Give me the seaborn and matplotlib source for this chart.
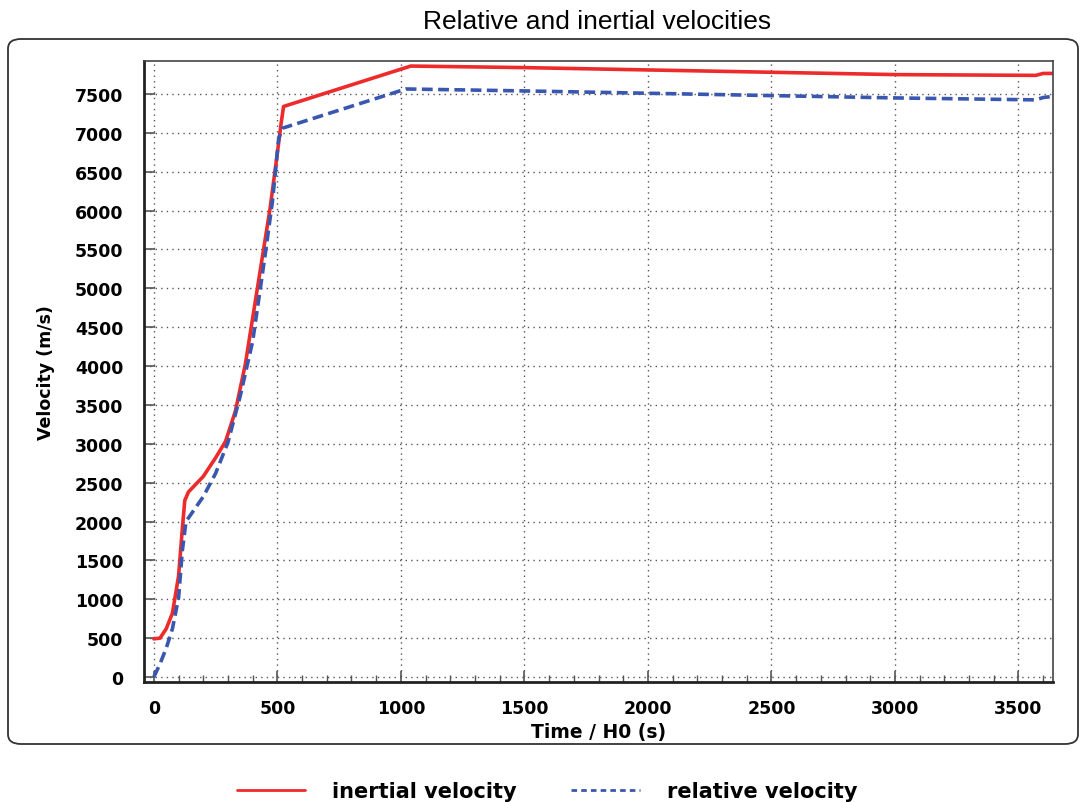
import numpy as np
import pandas as pd
import matplotlib
matplotlib.use("Agg")
import matplotlib.pyplot as plt
from matplotlib.patches import FancyBboxPatch
from matplotlib.lines import Line2D
from matplotlib.ticker import MultipleLocator
import seaborn as sns

# ---- data ----
inertial_t = [0, 25, 50, 75, 100, 115, 125, 140, 200, 250, 290, 330, 370, 420, 445,
              470, 495, 515, 525, 1040, 1500, 2000, 2500, 3000, 3570, 3600, 3640]
inertial_v = [490, 500, 620, 820, 1300, 1900, 2270, 2380, 2580, 2820, 3030, 3420, 4020,
              5020, 5520, 6020, 6620, 7120, 7340, 7860, 7840, 7810, 7780, 7750, 7740, 7765, 7765]

relative_t = [0, 25, 50, 75, 100, 115, 130, 200, 250, 300, 350, 400, 450, 480, 505,
              520, 1020, 1500, 2000, 2500, 3000, 3570, 3600, 3640]
relative_v = [0, 170, 370, 620, 1020, 1620, 2000, 2320, 2620, 3020, 3620, 4320, 5420,
              6120, 6920, 7060, 7565, 7540, 7510, 7480, 7450, 7425, 7455, 7470]

series_names = ["inertial velocity", "relative velocity"]
x_ticks = [0, 500, 1000, 1500, 2000, 2500, 3000, 3500]
y_ticks = list(range(0, 7501, 500))

df = pd.concat([
    pd.DataFrame({"t": inertial_t, "v": inertial_v, "series": series_names[0]}),
    pd.DataFrame({"t": relative_t, "v": relative_v, "series": series_names[1]}),
])

sns.set_theme(style="white")
plt.rcParams["font.family"] = ["DejaVu Sans"]
plt.rcParams["text.color"] = "black"
plt.rcParams["axes.labelcolor"] = "black"
plt.rcParams["xtick.labelcolor"] = "black"
plt.rcParams["ytick.labelcolor"] = "black"

W, H = 1081, 803
fig = plt.figure(figsize=(W / 100, H / 100), dpi=100)

# rounded frame around plot area
frame = FancyBboxPatch((8 / W, 1 - 745 / H), (1078 - 8) / W, (745 - 40) / H,
                       boxstyle="round,pad=0,rounding_size=0.012",
                       transform=fig.transFigure, facecolor="none",
                       edgecolor="#333333", linewidth=1.3)
fig.patches.append(frame)

ax = fig.add_axes([144 / W, 1 - 683 / H, (1053 - 144) / W, (683 - 62) / H])

red = "#ee2b2b"
blue = "#3a57b0"
sns.lineplot(data=df[df.series == series_names[0]], x="t", y="v", ax=ax,
             color=red, linewidth=2.6, estimator=None, sort=False, legend=False)
sns.lineplot(data=df[df.series == series_names[1]], x="t", y="v", ax=ax,
             color=blue, linewidth=2.6, estimator=None, sort=False, legend=False,
             linestyle=(0, (3, 1.5)))

ax.set_xlim(-40, 3640)
ax.set_ylim(-65, 7925)
ax.set_xticks(x_ticks)
ax.set_yticks(y_ticks)
ax.set_yticklabels([str(v) for v in y_ticks])
ax.xaxis.set_minor_locator(MultipleLocator(100))

ax.grid(True, which="major", linestyle=(0, (1, 3)), color="#555555", linewidth=1.0)
ax.tick_params(axis="both", which="major", direction="in", length=8, width=1.2,
               color="#555555", labelsize=12.5, labelcolor="black")
ax.tick_params(axis="y", which="major", pad=15)
ax.tick_params(axis="x", which="major", pad=12)
ax.tick_params(axis="x", which="minor", direction="in", length=5, width=1.0,
               color="#555555", bottom=True)
ax.tick_params(axis="both", which="both", left=True, bottom=True)
for lab in ax.get_xticklabels() + ax.get_yticklabels():
    lab.set_fontweight("bold")

for side in ["left", "bottom"]:
    ax.spines[side].set_color("#222222")
    ax.spines[side].set_linewidth(2.0)
for side in ["top", "right"]:
    ax.spines[side].set_color("#444444")
    ax.spines[side].set_linewidth(1.2)

ax.set_xlabel("Time / H0 (s)", fontsize=13.5, fontweight="bold", labelpad=4)
ax.set_ylabel("Velocity (m/s)", fontsize=12.5, fontweight="bold", labelpad=14)

fig.text(597 / W, 1 - 22 / H, "Relative and inertial velocities", ha="center",
         va="center", fontsize=19, family="Liberation Sans")

handles = [Line2D([], [], color=red, linewidth=2.0),
           Line2D([], [], color=blue, linewidth=2.0, linestyle=(0, (2, 1.5)))]
fig.legend(handles, series_names, loc="center", bbox_to_anchor=(547 / W, 1 - 792 / H),
           ncol=2, frameon=False, handlelength=3.3, columnspacing=2.6, handletextpad=1.3,
           prop={"weight": "bold", "size": 15})

fig.savefig("out.png", dpi=100)
